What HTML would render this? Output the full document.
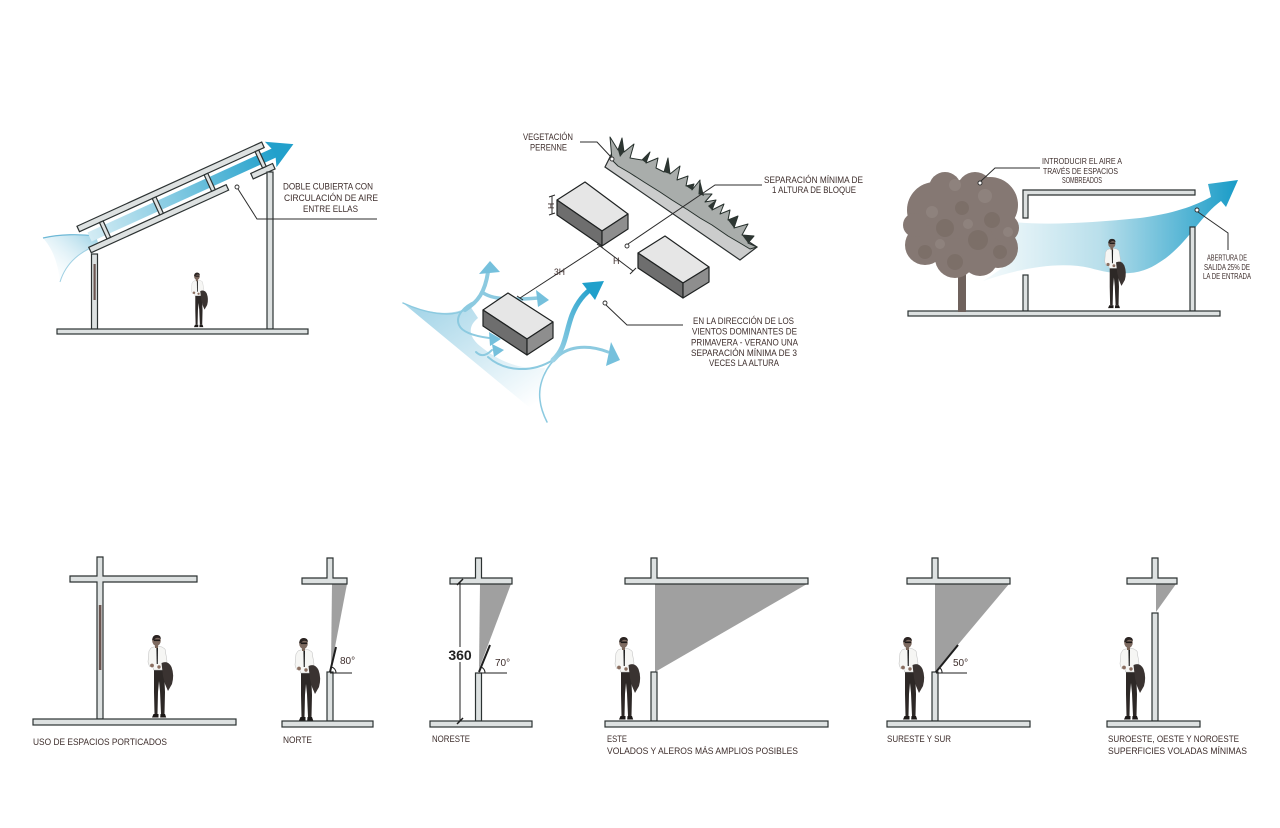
<!DOCTYPE html>
<html><head><meta charset="utf-8"><style>
html,body{margin:0;padding:0;background:#fff;}
svg{display:block;}
text{font-family:"Liberation Sans",sans-serif;fill:#3d2d2b;}
</style></head><body>
<svg width="1280" height="828" viewBox="0 0 1280 828" xmlns="http://www.w3.org/2000/svg">
<defs>
 <linearGradient id="gRoof" x1="0" y1="0" x2="1" y2="0">
  <stop offset="0" stop-color="#d4ecf4"/><stop offset="1" stop-color="#21a0cb"/>
 </linearGradient>
 <linearGradient id="gWedge" x1="1" y1="0" x2="0" y2="1">
  <stop offset="0" stop-color="#8ccbe2"/><stop offset="1" stop-color="#ffffff" stop-opacity="0"/>
 </linearGradient>
 <linearGradient id="gFlow" x1="990" y1="0" x2="1235" y2="0" gradientUnits="userSpaceOnUse">
  <stop offset="0" stop-color="#f2f9fb"/><stop offset="0.45" stop-color="#b9dfeb"/><stop offset="1" stop-color="#1c9dc8"/>
 </linearGradient>
 <linearGradient id="gWind" x1="0.1" y1="0.1" x2="0.8" y2="0.95">
  <stop offset="0" stop-color="#a9d7e9"/><stop offset="1" stop-color="#ffffff"/>
 </linearGradient>
 <linearGradient id="gBig" x1="0" y1="1" x2="1" y2="0">
  <stop offset="0" stop-color="#9fd3e6"/><stop offset="1" stop-color="#1f9fcb"/>
 </linearGradient>
 <g id="man">
  <path d="M8,35 L18,35 L19,58 L18.5,80 L15,80 L14,57 L13,47 L12,58 L11.5,80 L8.5,80 L8,58 Z" fill="#2d2826"/>
  <path d="M7.5,80 h5 v3.5 h-6.5 z M14.5,80 h4.5 l1.2,3.5 h-6 z" fill="#1c1817"/>
  <path d="M5,14 Q10,11.5 16,13 L19,15 L21,27 L19.5,32 L18.5,36 L7.5,36 L6.5,31 L3.5,32.5 L2,28 L3,17 Z" fill="#f6f6f4" stroke="#bcbcbc" stroke-width="0.5"/>
  <path d="M10.4,13.5 L12,13.5 L11.8,30 L10.7,30 Z" fill="#1e1e1e"/>
  <circle cx="6" cy="31.5" r="1.9" fill="#8a6e60"/>
  <circle cx="13" cy="33" r="1.7" fill="#8a6e60"/>
  <path d="M15.5,29 Q22,26 25.5,33 Q28.5,41 26,50 L22,57 L19,50 L17,42 Z" fill="#3a3331"/>
  <rect x="9" y="10" width="3" height="4" fill="#7a6558"/>
  <ellipse cx="10.5" cy="6.5" rx="4.3" ry="5.5" fill="#7d6a60"/>
  <path d="M6.2,6 Q6.5,0.8 11,1 Q15,1.2 14.8,5 L13,4 Q10,3 7.5,6.5 Z" fill="#2b2422"/>
  <rect x="8" y="5.5" width="6" height="1.6" fill="#1e1a19"/>
 </g>
</defs>
<rect width="1280" height="828" fill="#fff"/>

<!-- ================= TOP LEFT ================= -->
<path d="M43,238 C60,234 80,234 96,236 L99,246 C82,250 66,262 60,282 C58,262 52,248 43,238 Z" fill="url(#gWedge)" opacity="0.9"/>
<path d="M43,238 C60,234 80,234 96,236" fill="none" stroke="#6db8d6" stroke-width="1.2"/>
<path d="M60,282 C66,262 82,250 99,245" fill="none" stroke="#9fd0e3" stroke-width="1"/>
<g transform="translate(90,250) rotate(-24.5)">
 <rect x="5" y="-17" width="205" height="10" fill="url(#gRoof)"/>
 <polygon points="204,-26 229,-12 204,2 209,-12" fill="#22a0cb"/>
 <g fill="#dde1e1" stroke="#2c3232" stroke-width="1.2">
  <rect x="0" y="-3" width="151" height="6"/>
  <rect x="178" y="-3" width="24" height="6"/>
  <rect x="-2" y="-27" width="203" height="6"/>
  <rect x="20" y="-21" width="4" height="18"/>
  <rect x="78" y="-21" width="4" height="18"/>
  <rect x="135" y="-21" width="4" height="18"/>
  <rect x="191" y="-21" width="4" height="18"/>
 </g>
</g>
<g fill="#dde1e1" stroke="#2c3232" stroke-width="1.2">
 <rect x="91.5" y="254" width="6" height="75"/>
 <rect x="267" y="172" width="6" height="157"/>
 <rect x="57" y="329" width="251" height="5"/>
</g>
<rect x="93.5" y="264" width="2.2" height="36" fill="#6b5550"/>
<use href="#man" transform="translate(190,272) scale(0.66)"/>
<circle cx="237" cy="187" r="2" fill="#fff" stroke="#2c2c2c" stroke-width="0.9"/>
<polyline points="238,189 257,219 377,219" fill="none" stroke="#2c2c2c" stroke-width="1"/>
<text x="283" y="189.5" font-size="9.5" textLength="90" lengthAdjust="spacingAndGlyphs">DOBLE CUBIERTA CON</text>
<text x="284" y="201" font-size="9.5" textLength="94" lengthAdjust="spacingAndGlyphs">CIRCULACIÓN DE AIRE</text>
<text x="303" y="212" font-size="9.5" textLength="55" lengthAdjust="spacingAndGlyphs">ENTRE ELLAS</text>

<!-- ================= CENTER ================= -->
<path d="M403,303 C430,315 455,316 470,306 L478,318 C468,326 468,336 480,346 C500,362 520,370 545,368 C540,385 540,405 547,422 Z" fill="url(#gWind)"/>
<g fill="none" stroke="#8ccae0" stroke-linecap="round">
 <path d="M403,303 C425,313 450,318 465,310" stroke-width="1.5"/>
 <path d="M465,310 C478,302 485,292 488,272" stroke-width="4"/>
 <path d="M482,292 C492,300 512,300 538,298" stroke-width="3.5"/>
 <path d="M476,301 C464,306 455,316 459,325 C462,332 474,336 489,338" stroke-width="2"/>
 <path d="M476,352 C480,356 485,357 492,350" stroke-width="2"/>
 <path d="M488,357 C505,372 532,373 553,360" stroke-width="2"/>
 <path d="M557,357 C570,345 590,345 608,352" stroke-width="3"/>
 <path d="M560,355 C545,366 538,385 540,400 C541,410 545,418 547,422" stroke-width="1.5"/>
</g>
<path d="M553,360 C566,348 565,334 572,315 C578,300 586,292 594,287" fill="none" stroke="url(#gBig)" stroke-width="5" stroke-linecap="round"/>
<g fill="#75c0dc">
 <polygon points="490,261 479,274 500,272"/>
 <polygon points="549,300 536,290 538,307"/>
 <polygon points="501,339 489,332 490,346"/>
 <polygon points="504,350 492,344 494,357"/>
 <polygon points="620,360 611,342 606,366"/>
</g>
<polygon points="604,281 582,283 595,300" fill="#20a0cb"/>

<!-- vegetation strip -->
<polygon points="605,167 612,153 757,247 740,260" fill="#cbcccc" stroke="#2a2f2f" stroke-width="1.2"/>
<polygon fill="#a9adab" stroke="#26302c" stroke-width="1" stroke-linejoin="round" points="612,160 610,137 618,150 622,138 624,152 634,144 630,158 642,160 650,152 646,163 658,158 656,168 664,172 668,158 670,174 680,166 677,180 688,176 686,186 694,184 692,190 700,180 699,194 712,194 705,202 716,200 712,210 724,204 720,214 730,210 728,220 738,216 734,228 748,224 742,235 754,236 748,243 757,247 750,249 740,243 728,236 712,225 700,218 688,210 672,200 660,192 644,182 630,173 618,166"/>
<g fill="#2d3632">
 <polygon points="618,150 622,138 624,152 620,157"/>
 <polygon points="642,160 650,152 646,163"/>
 <polygon points="664,172 668,158 670,174"/>
 <polygon points="686,186 694,184 692,190"/>
 <polygon points="699,194 700,180 704,196"/>
 <polygon points="716,200 712,210 708,206"/>
 <polygon points="728,220 738,216 734,228"/>
 <polygon points="742,235 754,236 748,243"/>
</g>

<!-- blocks -->
<g stroke="#1f2222" stroke-width="1.2" stroke-linejoin="round">
 <polygon points="557,200 585,182 628,214 602,231" fill="#e6e6e6"/>
 <polygon points="557,200 602,231 602,246 557,215" fill="#6e6e6e"/>
 <polygon points="602,231 628,214 628,229 602,246" fill="#8e8e8e"/>
 <polygon points="638,253 665,236 709,267 683,283" fill="#e6e6e6"/>
 <polygon points="638,253 683,283 683,298 638,268" fill="#6e6e6e"/>
 <polygon points="683,283 709,267 709,282 683,298" fill="#8e8e8e"/>
 <polygon points="483,310 508,293 553,322 527,339" fill="#e6e6e6"/>
 <polygon points="483,310 527,339 527,355 483,326" fill="#6e6e6e"/>
 <polygon points="527,339 553,322 553,338 527,355" fill="#8e8e8e"/>
</g>
<g stroke="#2a2a2a" stroke-width="1" fill="none">
 <line x1="520" y1="298" x2="600" y2="246"/>
 <line x1="600" y1="246" x2="633" y2="271"/>
 <line x1="517" y1="296" x2="523" y2="300"/>
 <line x1="597" y1="244" x2="603" y2="248"/>
 <line x1="636" y1="268" x2="630" y2="274"/>
 <line x1="552" y1="196" x2="552" y2="214"/>
 <line x1="549" y1="197" x2="555" y2="195"/>
 <line x1="549" y1="215" x2="555" y2="213"/>
</g>
<text x="554" y="275" font-size="9" textLength="11" lengthAdjust="spacingAndGlyphs">3H</text>
<text x="613" y="264" font-size="9">H</text>
<text x="0" y="0" font-size="8.5" transform="translate(554,209) rotate(-90)">H</text>
<circle cx="612" cy="159" r="2" fill="#fff" stroke="#2c2c2c" stroke-width="0.9"/>
<polyline points="580,142 597,142 611,157" fill="none" stroke="#2c2c2c" stroke-width="1"/>
<circle cx="627" cy="246" r="2" fill="#fff" stroke="#2c2c2c" stroke-width="0.9"/>
<polyline points="628,244 715,185 762,185" fill="none" stroke="#2c2c2c" stroke-width="1"/>
<circle cx="605" cy="303" r="2" fill="#fff" stroke="#2c2c2c" stroke-width="0.9"/>
<polyline points="606,305 627,325 683,325" fill="none" stroke="#2c2c2c" stroke-width="1"/>
<text x="523" y="140" font-size="9" textLength="50" lengthAdjust="spacingAndGlyphs">VEGETACIÓN</text>
<text x="530" y="150.5" font-size="9" textLength="37" lengthAdjust="spacingAndGlyphs">PERENNE</text>
<text x="764" y="183" font-size="9.5" textLength="99" lengthAdjust="spacingAndGlyphs">SEPARACIÓN MÍNIMA DE</text>
<text x="772" y="193" font-size="9.5" textLength="84" lengthAdjust="spacingAndGlyphs">1 ALTURA DE BLOQUE</text>
<text x="693" y="324" font-size="9.5" textLength="101" lengthAdjust="spacingAndGlyphs">EN LA DIRECCIÓN DE LOS</text>
<text x="692" y="334.5" font-size="9.5" textLength="105" lengthAdjust="spacingAndGlyphs">VIENTOS DOMINANTES DE</text>
<text x="691" y="345.5" font-size="9.5" textLength="107" lengthAdjust="spacingAndGlyphs">PRIMAVERA - VERANO UNA</text>
<text x="691" y="356" font-size="9.5" textLength="106" lengthAdjust="spacingAndGlyphs">SEPARACIÓN MÍNIMA DE 3</text>
<text x="709" y="366" font-size="9.5" textLength="70" lengthAdjust="spacingAndGlyphs">VECES LA ALTURA</text>

<!-- ================= TOP RIGHT ================= -->
<path d="M1005,221 C1040,226 1090,223 1140,218 C1178,213 1198,204 1211,197 L1208,184 L1238,180 L1226,207 L1221,201 C1200,216 1186,246 1160,262 C1140,276 1118,276 1090,268 C1060,261 1020,268 983,281 C1000,270 1013,262 1014,250 C1015,236 1010,227 1005,221 Z" fill="url(#gFlow)"/>
<g fill="#dde1e1" stroke="#2c3232" stroke-width="1.2">
 <path d="M1023,190 H1195 V195 H1028 V218 H1023 Z"/>
 <rect x="1023" y="275" width="5" height="36"/>
 <rect x="1190" y="227" width="5" height="84"/>
 <rect x="908" y="311" width="312" height="5"/>
</g>
<!-- tree -->
<rect x="958" y="255" width="8" height="57" fill="#6f625d"/>
<g fill="#857873">
 <circle cx="962" cy="225" r="45"/>
 <circle cx="935" cy="210" r="28"/>
 <circle cx="990" cy="205" r="28"/>
 <circle cx="975" cy="190" r="18"/>
 <circle cx="945" cy="188" r="16"/>
 <circle cx="925" cy="245" r="20"/>
 <circle cx="998" cy="248" r="20"/>
 <circle cx="955" cy="258" r="20"/>
 <circle cx="980" cy="258" r="18"/>
 <circle cx="1005" cy="228" r="14"/>
 <circle cx="915" cy="225" r="12"/>
</g>
<g fill="#74675f" opacity="0.5">
 <circle cx="945" cy="228" r="9"/><circle cx="978" cy="240" r="10"/><circle cx="925" cy="252" r="7"/>
 <circle cx="992" cy="220" r="8"/><circle cx="962" cy="208" r="7"/><circle cx="1000" cy="252" r="7"/>
 <circle cx="955" cy="262" r="8"/>
</g>
<g fill="#9b8f8a" opacity="0.45">
 <circle cx="955" cy="185" r="6"/><circle cx="985" cy="196" r="7"/><circle cx="932" cy="212" r="6"/>
 <circle cx="968" cy="224" r="5"/><circle cx="940" cy="244" r="5"/><circle cx="1008" cy="232" r="5"/>
</g>
<use href="#man" transform="translate(1103,238) scale(0.84)"/>
<circle cx="980" cy="183" r="2" fill="#fff" stroke="#2c2c2c" stroke-width="0.9"/>
<polyline points="981,181 995,168 1040,168" fill="none" stroke="#2c2c2c" stroke-width="1"/>
<circle cx="1197" cy="210" r="2" fill="#fff" stroke="#2c2c2c" stroke-width="0.9"/>
<polyline points="1198,212 1228,233 1228,250" fill="none" stroke="#2c2c2c" stroke-width="1"/>
<text x="1042" y="164" font-size="8.5" textLength="80" lengthAdjust="spacingAndGlyphs">INTRODUCIR EL AIRE A</text>
<text x="1043" y="174" font-size="8.5" textLength="75" lengthAdjust="spacingAndGlyphs">TRAVÉS DE ESPACIOS</text>
<text x="1062" y="183" font-size="8.5" textLength="40" lengthAdjust="spacingAndGlyphs">SOMBREADOS</text>
<text x="1207" y="260.5" font-size="8.5" textLength="40" lengthAdjust="spacingAndGlyphs">ABERTURA DE</text>
<text x="1204" y="270" font-size="8.5" textLength="46" lengthAdjust="spacingAndGlyphs">SALIDA 25% DE</text>
<text x="1203" y="279" font-size="8.5" textLength="48" lengthAdjust="spacingAndGlyphs">LA DE ENTRADA</text>

<!-- ================= BOTTOM ROW ================= -->
<g fill="#a0a0a0">
 <polygon points="332,584 347,584 331,668"/>
 <polygon points="480,584 511,584 479,669"/>
 <polygon points="655,584 807,584 655,672"/>
 <polygon points="935,584 1009,584 935,672"/>
 <polygon points="1156,584 1176,584 1156,612"/>
</g>
<g fill="#dde1e1" stroke="#2c3232" stroke-width="1.2">
 <path d="M97,557 H103 V576 H197 V582 H103 V719 H97 V582 H70 V576 H97 Z"/>
 <rect x="33" y="719" width="203" height="6"/>
 <path d="M327,558 H333 V578 H347 V584 H302 V578 H327 Z"/>
 <rect x="327" y="672" width="6" height="49"/>
 <rect x="282" y="721" width="91" height="6"/>
 <path d="M475.5,558 H481.5 V578 H512 V584 H450 V578 H475.5 Z"/>
 <rect x="475.5" y="673" width="6" height="48"/>
 <rect x="430" y="721" width="102" height="6"/>
 <path d="M651,558 H657 V578 H808 V584 H625 V578 H651 Z"/>
 <rect x="651" y="672" width="6" height="49"/>
 <rect x="605" y="721" width="223" height="6"/>
 <path d="M932,558 H938 V578 H1010 V584 H907 V578 H932 Z"/>
 <rect x="932" y="672" width="6" height="49"/>
 <rect x="887" y="721" width="143" height="6"/>
 <path d="M1152,558 H1158 V578 H1177 V584 H1127 V578 H1152 Z"/>
 <rect x="1152" y="613" width="6" height="108"/>
 <rect x="1107" y="721" width="93" height="6"/>
</g>
<rect x="98.8" y="605" width="2.6" height="65" fill="#6b5550"/>
<g stroke="#1e1e1e" fill="none">
 <line x1="330" y1="672" x2="336" y2="647" stroke-width="2"/>
 <line x1="330" y1="673" x2="352" y2="673" stroke-width="1"/>
 <path d="M336,673 A6,6 0 0 0 331.5,667" stroke-width="1"/>
 <line x1="479" y1="672" x2="490" y2="645" stroke-width="2"/>
 <line x1="478" y1="673" x2="507" y2="673" stroke-width="1"/>
 <path d="M485,673 A6,6 0 0 0 481,667" stroke-width="1"/>
 <line x1="936" y1="672" x2="958" y2="645" stroke-width="2"/>
 <line x1="936" y1="673" x2="967" y2="673" stroke-width="1"/>
 <path d="M942,673 A6,6 0 0 0 940,668" stroke-width="1"/>
 <line x1="460" y1="582" x2="460" y2="721" stroke-width="1"/>
 <line x1="457" y1="585" x2="463" y2="579" stroke-width="1.5"/>
 <line x1="457" y1="724" x2="463" y2="718" stroke-width="1.5"/>
</g>
<rect x="446" y="647" width="28" height="15" fill="#fff"/>
<text x="460" y="660" font-size="14" font-weight="bold" text-anchor="middle" style="fill:#222">360</text>
<text x="340" y="664" font-size="10">80°</text>
<text x="495" y="666" font-size="10">70°</text>
<text x="953" y="666" font-size="10">50°</text>
<use href="#man" transform="translate(146,634)"/>
<use href="#man" transform="translate(293,637)"/>
<use href="#man" transform="translate(613,636)"/>
<use href="#man" transform="translate(897,636)"/>
<use href="#man" transform="translate(1118,636)"/>
<text x="33" y="745" font-size="9.5" textLength="134" lengthAdjust="spacingAndGlyphs">USO DE ESPACIOS PORTICADOS</text>
<text x="283" y="743" font-size="9.5" textLength="29" lengthAdjust="spacingAndGlyphs">NORTE</text>
<text x="432" y="742" font-size="9.5" textLength="38" lengthAdjust="spacingAndGlyphs">NORESTE</text>
<text x="607" y="742" font-size="9.5" textLength="20" lengthAdjust="spacingAndGlyphs">ESTE</text>
<text x="607" y="754" font-size="9.5" textLength="191" lengthAdjust="spacingAndGlyphs">VOLADOS Y ALEROS MÁS AMPLIOS POSIBLES</text>
<text x="887" y="742" font-size="9.5" textLength="64" lengthAdjust="spacingAndGlyphs">SURESTE Y SUR</text>
<text x="1108" y="742" font-size="9.5" textLength="131" lengthAdjust="spacingAndGlyphs">SUROESTE, OESTE Y NOROESTE</text>
<text x="1108" y="754" font-size="9.5" textLength="139" lengthAdjust="spacingAndGlyphs">SUPERFICIES VOLADAS MÍNIMAS</text>
</svg>
</body></html>
